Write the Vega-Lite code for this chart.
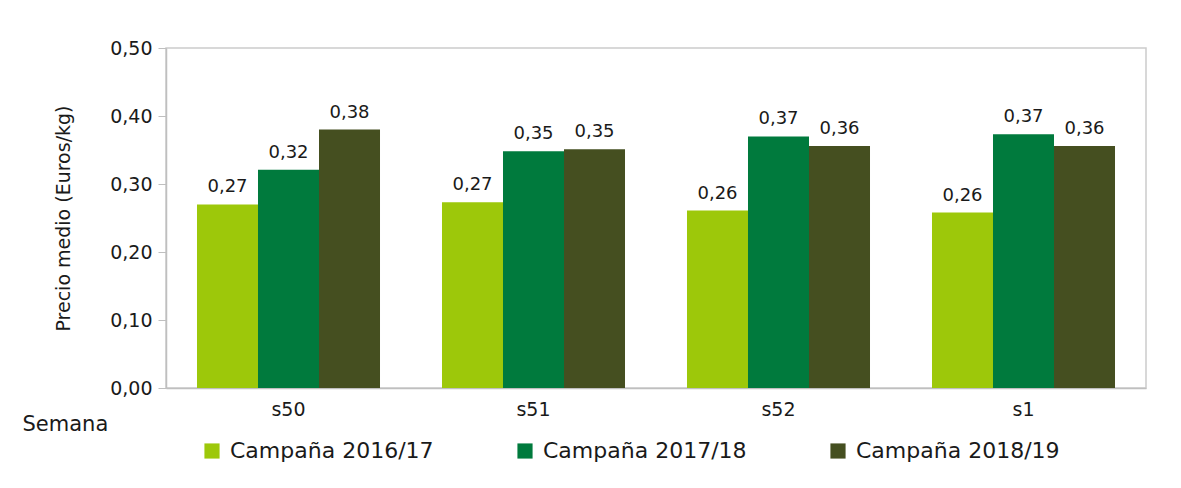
{
  "$schema": "https://vega.github.io/schema/vega-lite/v6.json",
  "autosize": {"type": "none"},
  "width": 980,
  "height": 340,
  "padding": {"left": 166, "top": 48, "right": 35, "bottom": 100},
  "background": "white",
  "config": {
    "locale": {"number": {"decimal": ",", "thousands": ".", "grouping": [3], "currency": ["", " €"]}},
    "font": "DejaVu Sans",
    "view": {"stroke": "#cccccc", "strokeWidth": 1.5}
  },
  "data": {
    "values": [
      {"semana": "s50", "campana": "Campaña 2016/17", "precio": 0.27},
      {"semana": "s50", "campana": "Campaña 2017/18", "precio": 0.321},
      {"semana": "s50", "campana": "Campaña 2018/19", "precio": 0.38},
      {"semana": "s51", "campana": "Campaña 2016/17", "precio": 0.273},
      {"semana": "s51", "campana": "Campaña 2017/18", "precio": 0.348},
      {"semana": "s51", "campana": "Campaña 2018/19", "precio": 0.351},
      {"semana": "s52", "campana": "Campaña 2016/17", "precio": 0.261},
      {"semana": "s52", "campana": "Campaña 2017/18", "precio": 0.37},
      {"semana": "s52", "campana": "Campaña 2018/19", "precio": 0.356},
      {"semana": "s1", "campana": "Campaña 2016/17", "precio": 0.258},
      {"semana": "s1", "campana": "Campaña 2017/18", "precio": 0.373},
      {"semana": "s1", "campana": "Campaña 2018/19", "precio": 0.356}
    ]
  },
  "encoding": {
    "x": {
      "field": "semana", "type": "nominal", "sort": ["s50", "s51", "s52", "s1"],
      "scale": {"paddingInner": 0.253, "paddingOuter": 0.1265},
      "axis": {
        "title": "Semana", "titleAnchor": "start", "titleAlign": "left", "titleX": -144, "titleY": 25,
        "titleFontSize": 21, "titleFontWeight": "normal", "titleColor": "#1a1a1a",
        "labelAngle": 0, "labelFontSize": 19, "labelColor": "#1a1a1a", "labelPadding": 12,
        "ticks": false, "domainColor": "#bfbfbf", "domainWidth": 1.5
      }
    },
    "xOffset": {"field": "campana", "type": "nominal", "scale": {"paddingInner": 0, "paddingOuter": 0}},
    "y": {
      "field": "precio", "type": "quantitative",
      "scale": {"domain": [0, 0.5]},
      "axis": {
        "title": "Precio medio (Euros/kg)", "titleFontSize": 19, "titleFontWeight": "normal", "titleColor": "#1a1a1a", "titlePadding": 36,
        "format": ".2f", "values": [0, 0.1, 0.2, 0.3, 0.4, 0.5],
        "labelFontSize": 19, "labelColor": "#1a1a1a", "labelPadding": 6,
        "tickSize": 8, "tickColor": "#bfbfbf", "domainColor": "#bfbfbf", "domainWidth": 1.5,
        "grid": false
      }
    }
  },
  "layer": [
    {
      "mark": {"type": "bar"},
      "encoding": {
        "color": {
          "field": "campana", "type": "nominal",
          "scale": {"domain": ["Campaña 2016/17", "Campaña 2017/18", "Campaña 2018/19"], "range": ["#9dc80a", "#007a3d", "#454f20"]},
          "legend": {
            "title": null, "orient": "none", "direction": "horizontal", "legendX": 35, "legendY": 392,
            "symbolType": "square", "symbolSize": 230, "symbolStrokeWidth": 0,
            "labelFontSize": 22, "labelColor": "#1a1a1a", "labelOffset": 7, "columnPadding": 80, "labelLimit": 400
          }
        }
      }
    },
    {
      "mark": {"type": "text", "dy": -17, "fontSize": 18, "color": "#1a1a1a"},
      "encoding": {
        "text": {"field": "precio", "type": "quantitative", "format": ".2f"}
      }
    }
  ]
}
